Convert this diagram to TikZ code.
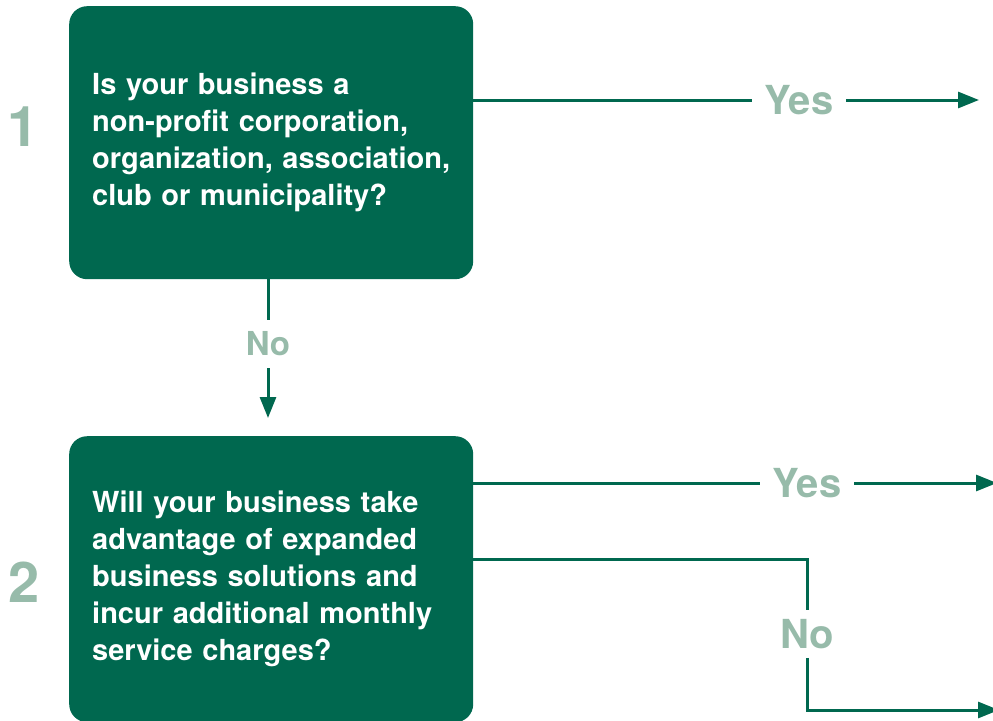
\documentclass[tikz,border=0pt]{standalone}
\usepackage{fontspec}
\setmainfont{TeX Gyre Heros}
\usetikzlibrary{arrows.meta,positioning}
\definecolor{qgreen}{RGB}{0,104,79}
\definecolor{qgrey}{RGB}{151,187,170}
\begin{document}
\begin{tikzpicture}[x=1pt, y=-1pt,
    question/.style={fill=qgreen, rounded corners=18pt, text=white, align=left,
        font=\fontsize{29}{37}\selectfont\bfseries, text width=358pt,
        inner xsep=23pt, inner ysep=0pt, anchor=north west},
    number/.style={text=qgrey, font=\fontsize{56}{56}\selectfont\bfseries, inner sep=0pt},
    answer/.style={text=qgrey, font=\fontsize{40}{40}\selectfont\bfseries, inner xsep=13pt, inner ysep=9pt},
    link/.style={draw=qgreen, line width=3pt},
    arrow/.style={link, -{Triangle[length=21pt,width=16pt]}}]
    \useasboundingbox (0,0) rectangle (993,720);
    \node(q1) [question, minimum height=273pt] at (69,6) {Is your business a\\ non-profit corporation,\\ organization, association,\\ club or municipality?};
    \node(q2) [question, minimum height=286pt] at (69,436) {Will your business take\\ advantage of expanded\\ business solutions and\\ incur additional monthly\\ service charges?};
    \node(n1) [number] at (23,127) {1};
    \node(n2) [number] at (24,582) {2};
    \node(yes1) [answer] at (799,100) {Yes};
    \node(no1) [answer, font=\fontsize{33}{33}\selectfont\bfseries, inner ysep=12pt] at (268,344) {No};
    \node(yes2) [answer] at (807,483) {Yes};
    \node(no2) [answer] at (807,634) {No};
    \coordinate(t1) at (979,100);
    \coordinate(t2) at (268,418);
    \coordinate(t3) at (997,483);
    \coordinate(t4) at (999,710);
    \coordinate(b1) at (807,559);
    \draw[link](q1.east |- yes1) to (yes1.west);
    \draw[arrow](yes1.east) to (t1);
    \draw[link](q1.south -| no1) to (no1.north);
    \draw[arrow](no1.south) to (t2);
    \draw[link](q2.east |- yes2) to (yes2.west);
    \draw[arrow](yes2.east) to (t3);
    \draw[link](q2.east |- b1) -| (no2.north);
    \draw[arrow](no2.south) |- (t4);
\end{tikzpicture}
\end{document}
